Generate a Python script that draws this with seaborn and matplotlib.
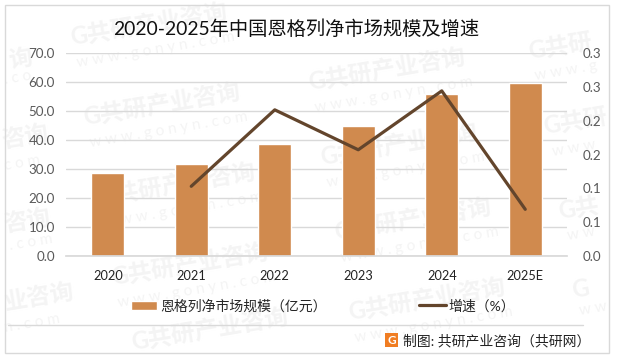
import matplotlib
matplotlib.use('Agg')
import matplotlib.pyplot as plt
from matplotlib.lines import Line2D
from matplotlib.patches import Patch, Rectangle
import pandas as pd
import seaborn as sns

years = ['2020', '2021', '2022', '2023', '2024', '2025E']
market_size = [28.7, 31.8, 38.7, 44.9, 56.0, 59.8]
growth = [None, 0.103, 0.216, 0.157, 0.244, 0.069]
left_ticks = [0, 10, 20, 30, 40, 50, 60, 70]
left_labels = ['0.0', '10.0', '20.0', '30.0', '40.0', '50.0', '60.0', '70.0']
right_ticks = [0, 0.05, 0.10, 0.15, 0.20, 0.25, 0.30]
right_labels = ['0.0', '0.1', '0.1', '0.2', '0.2', '0.3', '0.3']

title = '2020-2025年中国恩格列净市场规模及增速'
bar_name = '恩格列净市场规模（亿元）'
line_name = '增速（%）'
source = '制图: 共研产业咨询（共研网）'

# watermark pieces that fit on the canvas: x, y, text
stamp_cn = [(10, 68, '询'), (3, 148, '咨询'), (5, 232, '咨询'), (5, 310, '业咨询'),
            (72, 45, 'G共研产业咨询'), (85, 125, 'G共研产业咨询'), (100, 205, 'G共研产业咨询'),
            (113, 285, 'G共研产业咨询'), (133, 350, 'G共研产业咨询'),
            (310, 90, 'G共研产业咨询'), (322, 165, 'G共研产业咨询'), (336, 240, 'G共研产业咨询'),
            (350, 320, 'G共研产业咨询'),
            (530, 60, 'G共研'), (545, 135, 'G共研'), (560, 220, 'G共'), (573, 298, 'G')]
stamp_web = [(5, 84, '. c o'), (5, 170, 'c o m'), (10, 250, '. c o m'), (5, 332, 'n . c o m'),
             (78, 67, 'w w w . g o n y n . c o m'), (91, 147, 'w w w . g o n y n . c o m'),
             (106, 227, 'w w w . g o n y n . c o m'), (119, 307, 'w w w . g o n y n . c o m'),
             (316, 112, 'w w w . g o n y n . c o m'), (328, 187, 'w w w . g o n y n . c o m'),
             (342, 262, 'w w w . g o n y n . c o m'), (356, 342, 'w w w . g o n y n . c o m'),
             (536, 80, 'w w w . g'), (553, 156, 'w w w'), (568, 240, 'w w'), (580, 315, 'w w')]

BAR_COLOR = '#d08a4e'
LINE_COLOR = '#63452c'
GRID_COLOR = '#d9d9d9'
TICK_COLOR = '#595959'
MARK_COLOR = '#f4f4f4'

sns.set_theme(style='white')
plt.rcParams['font.family'] = ['Lato', 'Noto Sans CJK SC', 'DejaVu Sans']

W, H = 617, 358
df = pd.DataFrame({'year': years, 'size': market_size, 'growth': growth})


def fx(x):
    return x / W


def fy(y):
    return 1 - y / H


fig = plt.figure(figsize=(W / 100, H / 100), dpi=100, facecolor='white')

# watermark goes under the axes
for x0, y0, s in stamp_cn:
    fig.text(fx(x0), fy(y0), s, color=MARK_COLOR, fontsize=17, fontweight='bold',
             rotation=9.5, rotation_mode='anchor', ha='left', va='baseline', zorder=-2)
for x0, y0, s in stamp_web:
    fig.text(fx(x0), fy(y0), s, color=MARK_COLOR, fontsize=11,
             rotation=9.5, rotation_mode='anchor', ha='left', va='baseline', zorder=-2)

# outer frame and the rule above the source line
fig.add_artist(Rectangle((fx(4.5), fy(353)), (609 - 4.5) / W, (353 - 4.5) / H, fill=False,
                         edgecolor=GRID_COLOR, linewidth=1, zorder=1))
fig.add_artist(Line2D([fx(8), fx(583)], [fy(324.5), fy(324.5)], color=GRID_COLOR, linewidth=1, zorder=1))

ax = fig.add_axes([fx(66), fy(256), (567 - 66) / W, (256 - 53) / H])
ax.patch.set_visible(False)
ax.set_axisbelow(True)
sns.barplot(data=df, x='year', y='size', color=BAR_COLOR, saturation=1, width=0.4, ax=ax)
ax.set_xlim(-0.5, 5.5)
ax.set_ylim(0, 70)
ax.set_yticks(left_ticks, left_labels)
ax.grid(axis='y', color=GRID_COLOR, linewidth=1)
ax.set_xlabel('')
ax.set_ylabel('')
ax.tick_params(axis='x', length=0, pad=10, labelsize=9.2, labelcolor='#222222')
ax.tick_params(axis='y', length=0, pad=8, labelsize=9.6, labelcolor=TICK_COLOR)
for side in ['top', 'left', 'right']:
    ax.spines[side].set_visible(False)
ax.spines['bottom'].set_color(GRID_COLOR)

ax2 = ax.twinx()
ax2.patch.set_visible(False)
sns.lineplot(data=df, x='year', y='growth', color=LINE_COLOR, linewidth=2.3, ax=ax2)
ax2.set_ylim(0, 0.3)
ax2.set_yticks(right_ticks, right_labels)
ax2.set_xlabel('')
ax2.set_ylabel('')
ax2.grid(False)
ax2.tick_params(axis='y', length=0, pad=11, labelsize=9.6, labelcolor=TICK_COLOR)
for side in ['top', 'left', 'right', 'bottom']:
    ax2.spines[side].set_visible(False)

fig.text(fx(296.5), fy(29), title, fontsize=13.9, color='#111111', ha='center', va='center')

handles = [Patch(facecolor=BAR_COLOR, label=bar_name),
           Line2D([0], [0], color=LINE_COLOR, linewidth=2.3, label=line_name)]
fig.legend(handles=handles, ncol=2, frameon=False, fontsize=10, loc='center',
           bbox_to_anchor=(fx(323), fy(305.5)), handlelength=1.9, handletextpad=0.2,
           columnspacing=6.7)

# source line with the small logo
fig.add_artist(Rectangle((fx(385), fy(347)), 13 / W, 14 / H, facecolor='#f07d22', edgecolor='none'))
fig.text(fx(391.5), fy(340), 'G', color='white', fontsize=8.5, fontweight='bold', ha='center', va='center')
fig.text(fx(403), fy(341), source, fontsize=10, color='#222222', ha='left', va='center')

fig.savefig('out.png', dpi=100)
